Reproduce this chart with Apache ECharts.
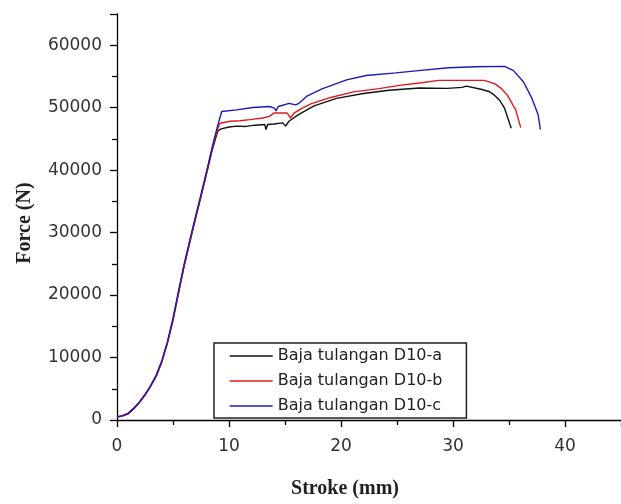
<!DOCTYPE html>
<html>
<head>
<meta charset="utf-8">
<script src="https://cdn.jsdelivr.net/npm/echarts@6/dist/echarts.min.js"></script>
<style>
html,body{margin:0;padding:0;background:#fff;}
#chart{width:621px;height:504px;}
</style>
</head>
<body>
<div id="chart"></div>
<script>
// Series names
var seriesNames = ['Baja tulangan D10-a', 'Baja tulangan D10-b', 'Baja tulangan D10-c'];

// D10-a
var strokeA = [0, 0.5, 1, 1.5, 2, 2.5, 3, 3.5, 4, 4.5, 5, 5.5, 6, 6.5, 7, 7.5, 8, 8.5, 9.0, 9.3, 10.0, 10.7, 11.5, 12.3, 13.2, 13.3, 13.45, 14.0, 14.8, 15.05, 15.35, 16.2, 17.6, 19.6, 22.0, 24.3, 27.0, 29.5, 30.8, 31.2, 32.5, 33.2, 33.7, 34.2, 34.6, 35.2];
var forceA  = [500, 650, 1000, 1800, 2800, 4000, 5400, 7000, 9300, 12300, 16000, 20400, 24700, 28500, 32200, 35800, 39500, 43200, 46300, 46600, 46900, 47050, 47000, 47200, 47300, 46500, 47300, 47400, 47570, 47050, 47830, 48900, 50300, 51490, 52280, 52800, 53150, 53100, 53250, 53450, 52960, 52600, 52010, 51100, 49920, 46700];

// D10-b
var strokeB = [0, 0.5, 1, 1.5, 2, 2.5, 3, 3.5, 4, 4.5, 5, 5.5, 6, 6.5, 7, 7.5, 8, 8.5, 9.0, 9.2, 10.1, 11.0, 11.85, 13.0, 13.6, 14.0, 15.2, 15.5, 15.8, 16.5, 17.3, 19.0, 21.1, 23.4, 25.2, 27.2, 28.7, 32.8, 33.7, 34.3, 34.85, 35.6, 36.05];
var forceB  = [500, 650, 1000, 1800, 2800, 4000, 5400, 7000, 9300, 12300, 16000, 20400, 24700, 28500, 32200, 35800, 39600, 43400, 46700, 47500, 47830, 47900, 48090, 48350, 48620, 49140, 49140, 48350, 49140, 49900, 50600, 51600, 52540, 53060, 53580, 54000, 54370, 54370, 53850, 53100, 52010, 49650, 46800];

// D10-c
var strokeC = [0, 0.5, 1, 1.5, 2, 2.5, 3, 3.5, 4, 4.5, 5, 5.5, 6, 6.5, 7, 7.5, 8, 8.5, 9.0, 9.35, 9.5, 10.67, 12.14, 13.6, 14.05, 14.2, 14.4, 15.36, 15.95, 16.1, 16.24, 17.0, 18.3, 20.5, 22.25, 24.9, 26.9, 29.6, 32.0, 34.6, 35.4, 36.3, 37.05, 37.6, 37.8];
var forceC  = [500, 700, 1100, 1900, 2900, 4100, 5500, 7200, 9500, 12500, 16300, 20700, 25000, 28800, 32500, 36100, 39800, 43700, 47200, 49400, 49100, 49650, 50030, 50190, 49920, 49500, 50190, 50700, 50440, 50190, 50700, 51900, 53000, 54450, 55150, 55570, 55930, 56400, 56550, 56620, 55930, 54110, 51490, 48870, 46510];

var seriesColors = ['#111111', '#e01818', '#1a1ab8'];

function pairs(xs, ys) {
  var out = [];
  for (var i = 0; i < xs.length; i++) out.push([xs[i], ys[i]]);
  return out;
}
var allData = [pairs(strokeA, forceA), pairs(strokeB, forceB), pairs(strokeC, forceC)];

var chart = echarts.init(document.getElementById('chart'), null, {renderer: 'canvas'});
var tickFont = {fontFamily: 'DejaVu Sans', fontSize: 17, color: '#333'};
var titleFont = {fontFamily: 'Liberation Serif', fontWeight: 'bold', fontSize: 20, color: '#222'};

chart.setOption({
  animation: false,
  backgroundColor: '#fff',
  grid: {left: 117, top: 14, right: -8, bottom: 76, containLabel: false},
  legend: {
    orient: 'vertical',
    left: 214, top: 343,
    padding: [5, 24, 4, 15],
    itemGap: 9,
    itemWidth: 43,
    itemHeight: 14,
    borderColor: '#222',
    borderWidth: 1.5,
    backgroundColor: '#fff',
    itemStyle: {opacity: 0},
    lineStyle: {width: 1.4},
    data: seriesNames,
    textStyle: {fontFamily: 'DejaVu Sans', fontSize: 16, color: '#222'}
  },
  xAxis: {
    type: 'value', min: 0, max: 45, interval: 10,
    name: 'Stroke (mm)', nameLocation: 'middle', nameGap: 59,
    nameTextStyle: Object.assign({padding: [0, 48, 0, 0]}, titleFont),
    axisLine: {show: true, onZero: false, lineStyle: {color: '#000', width: 1.3}},
    axisTick: {show: true, length: 7, lineStyle: {color: '#000', width: 1.3}},
    minorTick: {show: true, splitNumber: 2, length: 5, lineStyle: {color: '#000', width: 1.3}},
    axisLabel: Object.assign({margin: 18, showMaxLabel: false, formatter: function (v) { return String(v); }}, tickFont),
    splitLine: {show: false}
  },
  yAxis: {
    type: 'value', min: 0, max: 65000, interval: 10000,
    name: 'Force (N)', nameLocation: 'middle', nameGap: 82,
    nameTextStyle: Object.assign({padding: [0, 12, 0, 0]}, titleFont),
    axisLine: {show: true, onZero: false, lineStyle: {color: '#000', width: 1.3}},
    axisTick: {show: true, length: 7, lineStyle: {color: '#000', width: 1.3}},
    minorTick: {show: true, splitNumber: 2, length: 5, lineStyle: {color: '#000', width: 1.3}},
    axisLabel: Object.assign({margin: 15, showMaxLabel: false, formatter: function (v) { return String(v); }}, tickFont),
    splitLine: {show: false}
  },
  series: seriesNames.map(function (n, i) {
    return {
      name: n, type: 'line', data: allData[i],
      symbol: 'none', showSymbol: false, smooth: false,
      color: seriesColors[i],
      lineStyle: {color: seriesColors[i], width: 1.4},
      z: 2 + i
    };
  })
});
</script>
</body>
</html>
